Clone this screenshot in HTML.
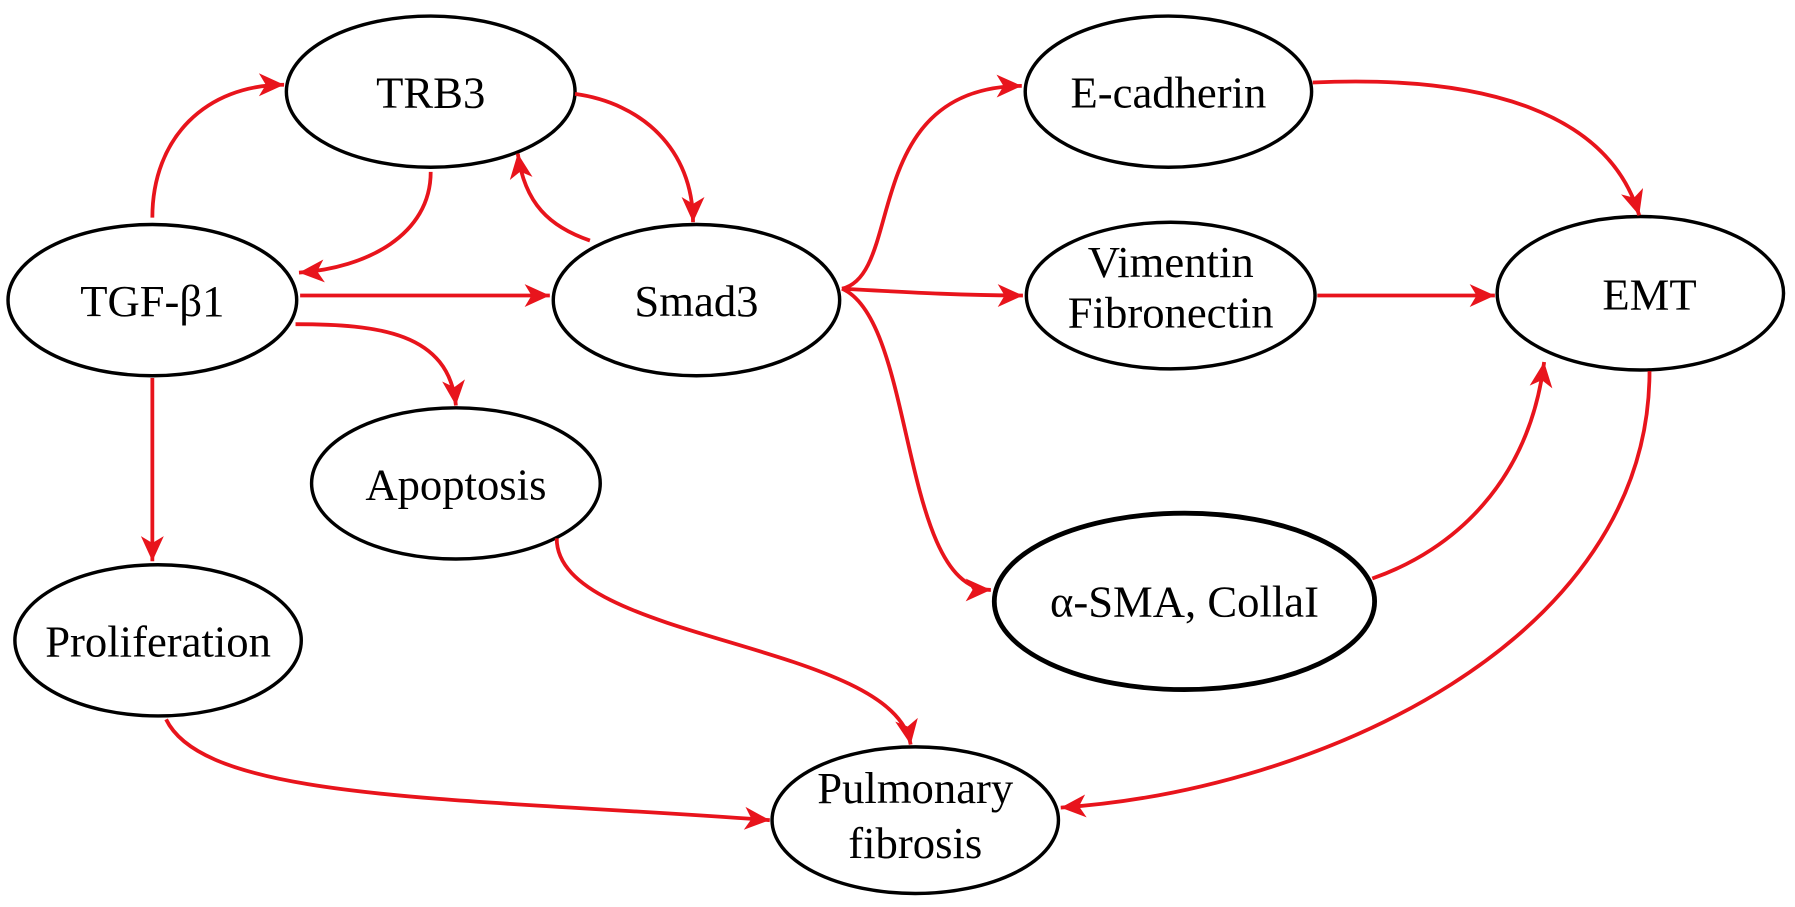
<!DOCTYPE html>
<html><head><meta charset="utf-8"><style>
html,body{margin:0;padding:0;background:#fff;}
svg{display:block;}
text{font-family:"Liberation Serif",serif;font-size:39px;fill:#000;text-anchor:middle;}
</style></head><body>
<svg width="1795" height="907" viewBox="0 0 1795 907" xmlns="http://www.w3.org/2000/svg">
<defs>
<marker id="a" markerUnits="userSpaceOnUse" orient="auto" refX="0" refY="0" markerWidth="40" markerHeight="40" style="overflow:visible">
<path d="M-22,-10 L0,0 L-22,10 L-16,0 Z" fill="#e8141c"/>
</marker>
</defs>
<g transform="scale(1.1455)">
<g fill="#fff" stroke="#000" stroke-width="3">
<ellipse cx="376" cy="80" rx="126" ry="66"/>
<ellipse cx="133" cy="262" rx="126" ry="66"/>
<ellipse cx="608" cy="262" rx="125" ry="66"/>
<ellipse cx="1020" cy="80" rx="125" ry="66"/>
<ellipse cx="1022" cy="258" rx="126" ry="64"/>
<ellipse cx="1432" cy="256" rx="125" ry="67"/>
<ellipse cx="398" cy="422" rx="126" ry="66"/>
<ellipse cx="1034" cy="525" rx="166" ry="77" stroke-width="4.2"/>
<ellipse cx="138" cy="559" rx="125" ry="66"/>
<ellipse cx="799" cy="716" rx="125" ry="64"/>
</g>
<g fill="none" stroke="#e8141c" stroke-width="3.3" marker-end="url(#a)">
<path d="M133,190 C133,120 180,74 248,74"/>
<path d="M376,150 C376,205 320,234 261,238"/>
<path d="M515,210 C480,198 458,178 452,134"/>
<path d="M502,82 C560,90 605,130 605,194"/>
<path d="M262,258 L480,258"/>
<path d="M258,283 C330,283 392,290 398,354"/>
<path d="M133,330 L133,490"/>
<path d="M735,252 C790,240 750,76 892,75"/>
<path d="M735,252 C790,255 840,258 893,258"/>
<path d="M735,252 C800,280 785,515 865,515"/>
<path d="M1146,72 C1300,65 1405,100 1431,188"/>
<path d="M1150,258 L1305,258"/>
<path d="M1198,505 C1270,480 1335,420 1348,316"/>
<path d="M1440,324 C1440,560 1150,690 926,705"/>
<path d="M486,470 C486,560 780,560 795,650"/>
<path d="M145,628 C180,700 400,696 672,716"/>
</g>
<text x="376" y="94">TRB3</text>
<text x="133" y="276">TGF-β1</text>
<text x="608" y="276">Smad3</text>
<text x="1020" y="94">E-cadherin</text>
<text x="1022" y="242">Vimentin</text>
<text x="1022" y="286">Fibronectin</text>
<text x="1440" y="270">EMT</text>
<text x="398" y="436">Apoptosis</text>
<text x="1034" y="538">α-SMA, CollaI</text>
<text x="138" y="573">Proliferation</text>
<text x="799" y="701">Pulmonary</text>
<text x="799" y="749">fibrosis</text>
</g>
</svg>
</body></html>
